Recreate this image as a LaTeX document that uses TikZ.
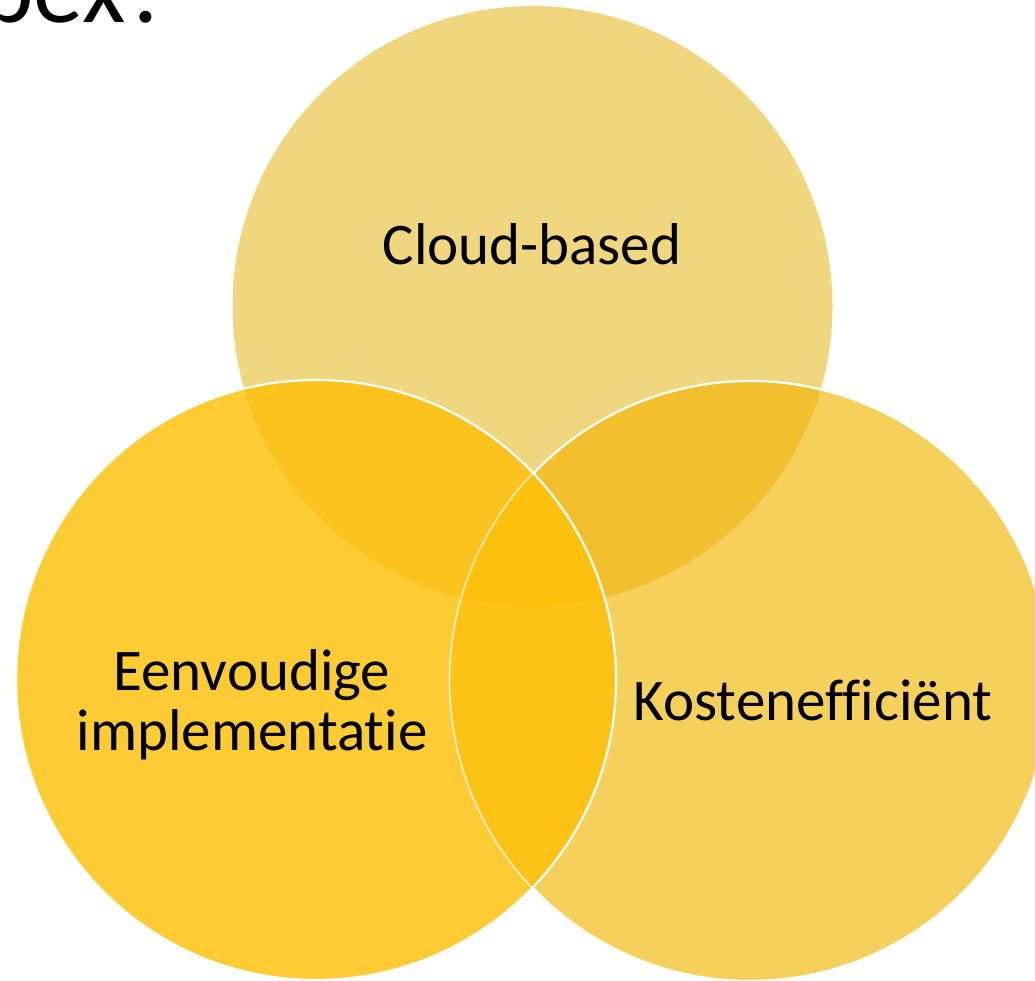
\documentclass[tikz,border=0pt]{standalone}
\usepackage{fontspec}
\setmainfont{Carlito}[Ligatures=NoCommon]
\definecolor{cT}{HTML}{F1D680}
\definecolor{cL}{HTML}{FDCB33}
\definecolor{cR}{HTML}{F5D05A}
\definecolor{cTL}{HTML}{FCC31E}
\definecolor{cTR}{HTML}{F2C02E}
\definecolor{cLR}{HTML}{FCC216}
\definecolor{cC}{HTML}{FCC10D}
\tikzset{
  lbl/.style={font=\fontsize{59}{70}\selectfont, inner sep=0pt, anchor=base, text=black},
  rim/.style={draw=white, line width=2.2pt},
}
\begin{document}
\begin{tikzpicture}[x=1pt,y=-1pt]
\useasboundingbox (0,0) rectangle (1035,981);
\clip (0,0) rectangle (1035,981);
\coordinate (T) at (532.5,306);
\coordinate (L) at (316,680);
\coordinate (R) at (750,681);
% single regions
\fill[cT] (T) circle[radius=300pt];
\fill[cR] (R) circle[radius=300pt];
\fill[cL] (L) circle[radius=300pt];
% pairwise overlaps
\begin{scope}\clip (T) circle[radius=300pt]; \fill[cTR] (R) circle[radius=300pt];\end{scope}
\begin{scope}\clip (T) circle[radius=300pt]; \fill[cTL] (L) circle[radius=300pt];\end{scope}
% right outline (over top circle)
\draw[rim] (R) circle[radius=300pt];
% left-right overlap covers the right outline
\begin{scope}\clip (L) circle[radius=300pt]; \fill[cLR] (R) circle[radius=300pt];\end{scope}
\begin{scope}\clip (T) circle[radius=300pt]; \clip (L) circle[radius=300pt]; \fill[cC] (R) circle[radius=300pt];\end{scope}
\begin{scope}\clip (L) circle[radius=300pt]; \draw[white, opacity=0.18, line width=2pt] (R) circle[radius=300pt];\end{scope}
% left outline on top
\draw[rim] (L) circle[radius=300pt];
% labels
\node[lbl] (cloud) at (532,265) {Cloud-based};
\node[lbl] (eenv1) at (252,690) {Eenvoudige};
\node[lbl] (eenv2) at (252,750) {implementatie};
\node[lbl] (kost) at (813,720) {Kostenefficiënt};
% title remnant
\node[font=\fontsize{100}{100}\selectfont, inner sep=0pt, anchor=base east] (title) at (172,23) {bex?};
\end{tikzpicture}
\end{document}
